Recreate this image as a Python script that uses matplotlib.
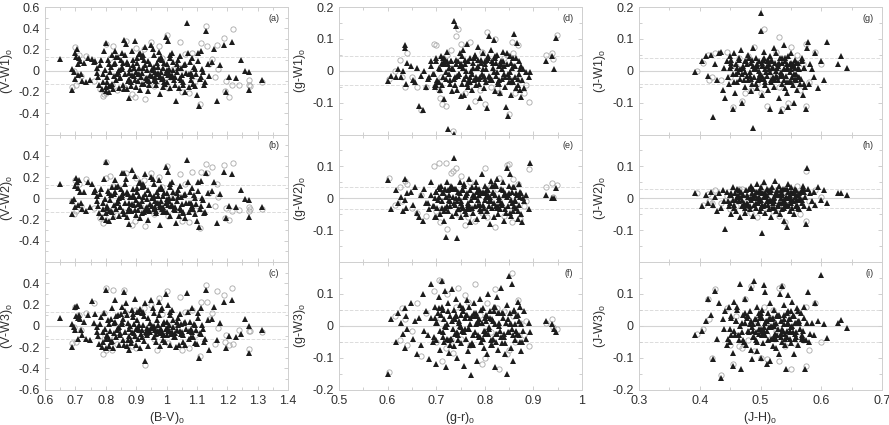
import numpy as np
import matplotlib
matplotlib.use("Agg")
import matplotlib.pyplot as plt
from matplotlib.ticker import MultipleLocator, FixedLocator

plt.rcParams['font.family'] = ['Liberation Sans', 'DejaVu Sans']
plt.rcParams['mathtext.default'] = 'regular'

# all values below are in thousandths of a magnitude
bv = [650,688,690,695,698,700,702,705,708,710,
      712,715,718,722,728,735,740,748,755,762,
      765,770,772,775,778,780,785,788,790,792,
      795,798,800,800,802,805,808,810,812,815,
      818,820,822,825,828,830,832,835,838,840,
      842,845,848,850,852,855,858,860,862,865,
      868,870,872,875,878,880,882,885,888,890,
      892,895,898,900,902,905,908,910,912,915,
      918,920,925,928,930,935,938,940,945,950,
      955,958,960,965,968,970,975,978,980,985,
      988,990,995,998,1000,1005,1008,1010,1012,1015,
      1020,1025,1030,1035,1040,1045,1050,1055,1060,1067,
      1070,1075,1080,1085,1090,1095,1100,1105,1108,1112,
      1115,1120,1125,1130,1135,1140,1150,1155,1165,1175,
      1190,1195,1205,1215,1230,1245,1260,1270,1272,1315,
      # dense core of the cloud
      803,817,826,833,846,853,861,869,877,884,
      891,897,903,909,913,919,923,927,933,937,
      942,947,952,957,962,967,972,977,982,987,
      992,997,1002,1007,1013,1018,1023,1028,1033,1038,
      1043,1048,1053,1058,1063,1073,1078,1083,1088,1093,
      1098,1103,1110,1118,1128,811,839,857,873,893,
      906,921,936,951,963,974,983,993,1004,1017,
      1027,1037,1047,1062,1082,944,959,971,986,1001]
va = [110,-185,20,-10,170,-80,130,200,-40,60,
      120,90,-30,-100,70,-110,120,-90,110,80,
      90,30,-20,-60,-130,50,100,-170,-30,-110,
      190,10,260,-150,-190,-60,100,-200,60,-10,
      40,150,-120,-170,-50,190,70,-90,-30,130,
      -160,10,-70,100,170,40,-130,290,-30,150,
      250,-170,60,-80,-255,20,-110,190,-40,100,
      -50,280,-10,-150,70,-100,160,30,-180,-60,
      130,-20,-120,220,50,-70,90,-190,-40,240,
      10,-90,150,-130,70,-30,180,-50,-220,100,
      30,-70,-120,320,60,280,-20,-160,120,-60,
      10,-90,-285,60,-160,140,-40,-130,-200,445,
      170,-30,-90,120,40,-140,-230,170,-335,-60,
      190,-10,-130,370,60,-50,80,200,-285,50,
      240,-200,-60,275,-70,100,-5,-185,-15,-90,
      -110,-140,60,130,-60,20,-170,80,-20,-140,
      50,-90,120,-30,170,-120,30,100,-70,10,
      -130,60,-50,200,-10,-100,40,-60,130,-150,
      70,-20,-110,20,150,-40,80,-130,-10,100,
      -70,30,-110,50,-20,-150,80,-50,-120,20,
      -30,90,-80,20,-110,-140,-10,70,-100,30,
      -30,150,-90,20,-60,110,-10,-110,-40,170,
      -60,30,-90,60,-20,-100,40,-20,-80,10]
vb = [130,-150,-30,-10,120,-80,190,150,-60,100,
      170,60,-40,-100,60,-120,150,-80,130,60,
      80,20,-30,-70,-140,40,90,-180,-40,-100,
      180,-10,340,-140,-200,-70,70,-210,50,-20,
      30,110,-130,-180,-60,170,60,-100,-40,120,
      -170,0,-80,90,240,30,-120,235,-40,130,
      180,-180,40,-90,-240,10,-120,270,-50,90,
      -60,210,-20,-160,60,-110,140,20,-190,-70,
      110,-30,-130,230,40,-80,80,-200,-50,200,
      0,-100,130,-140,60,-40,170,-60,-250,90,
      20,-80,-130,290,50,250,-30,-170,110,-70,
      0,-100,-230,50,-170,120,-50,-140,-190,360,
      150,-40,-100,100,30,-150,-210,150,-270,-70,
      160,-20,-140,240,50,-60,70,150,-230,40,
      250,-190,-70,225,-80,80,-10,-180,-20,-80,
      -90,-120,40,110,-80,10,-150,60,-40,-120,
      30,-110,100,-50,150,-140,10,120,-90,-10,
      -110,40,-70,180,-30,-120,20,-80,110,-130,
      50,-40,-130,0,130,-60,60,-110,-30,80,
      -90,10,-130,30,-40,-130,60,-70,-100,0,
      -50,70,-100,0,-130,-120,-30,50,-120,10,
      -50,130,-110,0,-80,90,-30,-130,-60,150,
      -80,10,-110,40,-40,-120,20,-40,-100,-10]
vc = [70,-200,20,-10,180,-40,90,190,-120,70,
      100,60,-40,-90,40,-120,100,-130,230,30,
      110,-10,-60,-100,-170,20,80,-200,-60,-150,
      120,-30,340,-120,-210,-90,50,-190,20,-50,
      60,170,-140,-210,-70,240,40,-110,-40,100,
      -180,-10,-90,110,180,20,-130,320,-60,140,
      210,-190,30,-100,-230,0,-130,150,-60,110,
      -70,250,-30,-180,50,-120,130,10,-210,-80,
      120,-40,-140,210,-335,-90,70,-190,-60,240,
      -10,-110,120,-150,50,-50,220,-70,-190,170,
      20,-90,-150,300,40,200,-40,-180,100,-80,
      -10,-110,-200,40,-180,110,-60,-150,-180,310,
      130,-50,-110,170,20,-160,-170,120,-300,-80,
      170,-30,-150,340,50,-230,60,180,-130,30,
      220,-210,-100,240,-110,-80,65,-5,-260,-40,
      -100,-150,30,90,-70,40,-180,100,-30,-160,
      80,-100,130,-40,160,-110,10,90,-60,-20,
      -50,30,-20,170,-40,-80,10,-40,150,-130,
      40,-30,-90,10,130,-60,50,-110,-40,70,
      -50,20,-90,30,-30,-120,40,-60,-110,10,
      -40,70,-70,10,-120,-120,-20,60,-130,20,
      -20,130,-70,0,-40,100,-30,-90,-50,150,
      -70,10,-80,40,-30,-40,0,-50,-60,-20]

# open circles, first column
bv2 = [690,695,700,703,712,720,735,762,780,790,
       795,800,800,815,820,825,838,860,868,888,
       895,900,915,925,930,950,960,970,975,985,
       1000,1005,1010,1020,1045,1050,1075,1085,1095,1110,
       1112,1130,1132,1140,1150,1160,1165,1170,1190,1192,
       1195,1205,1215,1218,1240,1270,1272,1275,1315,1060]
va2 = [-150,0,225,-130,150,-50,140,-100,-170,-240,
       -220,-210,250,120,-130,230,-180,-150,280,-220,
       -250,210,-60,200,-270,270,-140,-100,230,120,
       340,-160,-60,20,270,-200,-210,170,-100,-310,
       260,420,230,60,110,-60,240,20,310,-190,
       -100,-250,-130,395,-130,-130,-90,-140,-110,160]
vb2 = [-30,-150,170,-120,130,-70,180,-90,-190,-230,
       -180,340,190,210,-110,120,-160,-130,240,-250,
       -210,190,-80,170,-260,240,-150,-90,200,110,
       300,-170,-70,10,230,-210,-220,250,-110,-280,
       250,320,240,50,290,-70,130,10,310,-190,
       -90,-200,-120,335,-110,-120,-80,-100,-100,130]
vc2 = [-160,-10,180,-150,100,-40,120,210,-100,-270,
       120,360,-230,-90,-230,340,-170,340,120,-190,
       150,-210,-60,170,-365,200,-120,-230,260,110,
       330,-160,-60,20,270,-230,-210,150,-90,-280,
       220,380,220,60,120,-170,330,-20,290,-150,
       -90,-180,360,-170,-40,-50,-220,-50,-60,130]

gr = [600,608,618,622,628,632,635,636,637,640,
      648,652,656,660,665,668,672,675,680,685,
      690,695,698,700,702,705,708,710,712,715,
      716,718,720,722,724,726,728,730,732,735,
      736,737,738,740,742,744,746,748,750,752,
      754,756,758,760,762,764,766,768,770,772,
      774,776,778,780,782,784,786,788,790,792,
      794,796,798,800,802,804,806,808,810,812,
      814,816,818,820,822,824,826,828,830,832,
      834,836,838,840,842,844,845,846,848,850,
      852,854,855,856,858,860,862,864,866,868,
      870,871,872,874,875,876,878,880,885,890,
      892,925,938,942,947,700,740,770,800,830,
      # dense core of the cloud
      683,689,694,699,703,707,711,714,717,721,
      725,729,733,738,741,745,749,753,757,761,
      765,769,773,777,781,785,789,793,797,801,
      805,809,813,817,821,825,829,833,837,841,
      847,853,857,861,865,869,873,697,719,731,
      743,755,767,779,791,803,815,827,839,851,
      713,727,737,751,763,775,787,799,811,823,
      835,849,863,706,723,747,759,783,807,819]
gd = [-33,-15,-20,5,-20,0,80,70,-40,25,
      15,-30,-35,10,-112,-15,-122,0,-50,-20,
      30,-10,-50,40,-30,10,-60,45,-45,20,
      -90,35,-25,60,-183,10,-40,30,-65,5,
      -197,157,-20,140,-60,30,-10,55,-80,20,
      -40,65,-75,35,-15,85,-50,-115,40,0,
      -60,25,-30,50,-45,10,75,-25,-85,35,
      -10,55,-55,20,-35,-117,45,108,-20,65,
      -30,25,95,-65,40,-15,50,-40,15,-70,
      30,-25,60,-10,-50,-115,55,20,-143,-35,
      45,-75,10,-30,40,115,-20,-55,87,-45,
      30,-10,-60,15,-83,-30,5,-55,-5,-20,
      -5,30,45,4,104,-45,20,-20,30,-30,
      -25,15,-10,30,-35,5,25,-20,40,-5,
      20,-30,10,-45,35,-15,15,45,-25,0,
      30,-35,-10,40,-20,15,-40,25,5,-25,
      35,-15,-30,10,45,-5,-40,20,30,-20,
      -10,25,-35,15,40,-25,5,-45,20,30,
      -15,10,-30,45,-20,5,30,-35,15,-5,
      40,-10,-25,20,-40,10,35,-15,-30,25,
      5,-20,15,-35,30,-10,20,-25,40,-5]
ge = [58,-35,25,-15,5,-40,60,-5,-30,15,
      20,-20,35,-45,-60,10,-70,30,-15,-35,
      50,-25,-60,20,-30,5,-50,40,-10,15,
      -70,30,-120,50,-40,10,-25,40,-55,5,
      125,-15,30,-45,-125,20,-35,50,-10,-60,
      25,-30,45,5,-50,15,-20,60,-75,-5,
      35,-45,10,-25,50,-65,-5,30,-35,15,
      75,-20,-55,40,5,-40,25,-10,-80,55,
      -30,20,-60,10,45,-25,60,-50,-5,-35,
      30,-15,50,-70,15,-45,5,95,-25,40,
      75,-55,-15,20,-40,35,-5,-30,10,-65,
      45,-20,5,-50,15,-75,0,-10,10,-35,
      110,10,0,2,33,-60,30,-30,15,-5,
      -15,10,-25,20,-5,30,-30,15,-40,5,
      25,-10,35,-20,0,-35,15,-25,40,10,
      -15,25,-30,5,35,-20,10,-40,20,-5,
      30,-25,-10,15,40,-30,5,-15,25,-35,
      10,-5,35,-25,15,-40,20,0,-30,30,
      -10,25,-35,5,-20,15,40,-25,10,-45,
      20,-5,30,-15,-35,10,25,-30,5,40,
      -20,15,-10,35,-25,0,-40,20,10,-15]
gf = [-150,20,-50,40,10,-25,-70,55,30,-10,
      70,-40,15,-90,25,-60,100,-15,45,-105,
      130,-35,60,-120,10,90,-75,35,140,-20,
      -50,110,-130,5,70,-85,30,-40,115,-10,
      50,-65,20,85,-100,-30,10,65,-55,35,
      -15,45,-125,25,-40,80,-80,60,5,-155,
      30,-60,70,-20,40,-110,15,-35,85,-50,
      10,55,-70,-25,35,-90,100,-10,45,-60,
      20,-40,60,-130,5,-25,90,-75,40,-15,
      120,-55,25,-35,-90,10,65,-150,-20,155,
      40,-70,130,-10,-110,50,-45,30,-25,75,
      -30,15,60,-80,5,-50,-15,45,-40,10,
      -20,15,5,-10,-20,-45,35,-60,25,0,
      -30,25,-50,10,40,-15,60,-35,20,-5,
      45,-60,15,-25,30,-45,0,55,-20,35,
      -10,25,-55,40,5,-30,20,50,-40,-15,
      30,-5,-45,15,60,-25,10,-35,40,-55,
      20,5,-30,45,-15,35,-50,25,0,-40,
      -20,55,-10,30,-35,15,-60,40,-25,5,
      50,-45,20,-5,35,-30,10,-15,25,-50,
      40,-20,5,55,-40,15,-10,30,-25,45]

gr2 = [603,615,625,630,636,640,650,660,668,678,
       695,700,705,708,712,720,722,735,740,745,
       750,760,770,780,790,800,805,812,820,830,
       840,845,850,855,858,862,868,872,880,885,
       890,925,938,940,948,710,730,765,795,825]
gd2 = [-25,0,35,-20,-50,55,-20,-50,-122,-50,
       85,80,-60,-85,-105,-110,50,-190,110,130,
       85,-70,90,-95,-60,-105,120,-50,100,-70,
       40,50,-135,90,55,-70,80,-30,-70,-45,
       -97,50,55,38,112,-20,65,-35,60,-55]
ge2 = [62,-20,35,-10,55,45,-30,-45,10,-55,
       100,-40,110,-75,25,110,-95,85,95,-50,
       70,-85,50,-70,-40,95,-60,40,-90,65,
       -55,105,108,-75,60,-30,45,-65,-25,-10,
       92,35,47,5,42,-35,80,-60,-45,30]
gf2 = [-145,30,-45,55,20,-60,-15,70,-95,40,
       110,-50,145,25,-110,-70,100,-85,60,120,
       -40,95,-60,130,35,-100,70,-20,115,-135,
       45,-90,-75,165,30,-50,80,10,-30,15,
       -65,10,20,-5,-10,140,-45,75,-120,55]

jh = [393,404,410,414,418,422,425,428,432,435,
      438,440,442,445,448,450,452,454,455,456,
      458,460,462,464,466,467,468,470,472,474,
      476,478,480,482,484,485,486,487,488,490,
      491,492,494,495,496,498,499,500,501,502,
      503,504,505,506,507,508,510,511,512,514,
      515,516,518,519,520,522,523,524,525,526,
      528,529,530,532,533,534,535,536,538,539,
      540,541,542,543,544,545,546,548,549,550,
      551,552,553,554,555,556,558,560,562,564,
      566,568,570,572,574,575,576,578,580,582,
      585,588,590,595,599,605,609,627,632,642,
      # dense core of the cloud
      446,451,457,461,465,469,473,477,481,483,
      489,493,497,500,504,509,513,517,521,527,
      531,537,541,547,550,554,557,561,565,569,
      459,471,479,486,492,498,503,507,511,516,
      519,523,527,533,536,539,543,546,549,552,
      555,559,563,568,572,449,463,475,484,495,
      502,506,514,522,529,534,544,551,556,562,
      452,474,488,499,518,526,538,548,558,571]
jg = [-5,30,45,-15,50,-145,20,-30,55,60,
      -60,10,-85,30,-40,45,15,-120,-10,55,
      -70,20,-35,40,5,-25,65,-100,10,-50,
      30,-15,50,-5,-65,25,-40,-180,70,-20,
      10,40,-55,20,-30,0,-10,180,125,-75,
      15,35,-25,60,-45,5,-15,30,-60,20,
      -120,45,-35,10,-20,70,-50,25,0,55,
      -30,15,-85,40,-5,-125,-40,25,5,80,
      -55,30,-15,10,-70,45,-115,-5,20,-35,
      55,-20,15,-45,-100,35,-10,-60,25,5,
      -25,40,-75,10,-50,-120,70,90,-40,20,
      5,-20,55,-55,30,-30,90,20,45,10,
      -20,25,-35,10,35,-10,-30,20,40,-15,
      5,-40,30,-25,15,-5,35,-30,10,-20,
      25,-15,40,-35,5,20,-25,10,-40,30,
      -10,15,-30,35,5,-20,25,-35,15,-5,
      30,-25,10,-15,40,-30,20,5,-35,15,
      -10,25,-20,35,-40,10,-5,30,-25,15,
      -15,40,5,-30,20,-10,-35,25,10,-20,
      35,-5,15,-25,30,-15,5,20,-30,10]
jh_w2 = [18,-25,10,-15,20,-20,5,-40,15,-30,
         25,-10,-95,20,-25,10,-50,35,-5,-30,
         15,-40,30,-10,5,-60,20,-25,10,-45,
         25,-15,5,-35,40,-5,15,-55,30,-20,
         10,-30,45,0,-15,20,-40,-5,35,-110,
         15,-25,5,50,-20,-45,10,30,-10,-35,
         20,-5,-60,35,-15,5,-30,55,15,-40,
         10,-20,40,-50,0,25,-35,15,-70,-10,
         30,-15,5,-90,-25,20,45,-40,10,-5,
         35,-30,15,-10,-50,5,25,-20,10,-35,
         20,-15,40,-25,5,-80,95,30,-30,15,
         -10,20,-20,35,-5,25,-15,15,15,10,
         -10,15,-20,5,25,-5,-15,10,30,-25,
         0,20,-10,-30,15,5,-20,25,-5,10,
         -15,30,-25,5,20,-10,15,-30,0,25,
         -5,10,-20,30,-15,5,-25,15,-10,20,
         -30,0,25,-15,10,-5,30,-20,5,-10,
         20,-25,15,-5,30,-15,10,-30,0,20,
         -20,5,25,-10,-25,15,0,-15,30,-5,
         10,-20,5,25,-10,15,-30,0,-5,20]
ji = [-28,-15,15,85,35,-105,110,-40,70,-163,
      20,-10,45,-60,60,-50,30,-85,-127,75,
      -30,15,60,-45,0,132,-135,-20,35,85,
      -60,25,-15,45,-75,120,-105,5,-35,140,
      20,-45,60,-80,10,-25,35,-100,-10,50,
      25,-55,127,-15,105,-30,15,-120,40,-5,
      -110,70,-40,20,-65,0,50,-25,10,-70,
      30,-10,-90,100,-35,15,125,-50,5,65,
      -25,-60,-135,40,-15,10,95,-40,20,-5,
      -55,75,-20,30,-90,10,-35,55,-60,15,
      40,-30,-15,60,-137,-45,10,106,-50,-25,
      10,-30,70,15,160,5,-38,10,19,-7,
      -40,25,-15,50,-30,10,-50,30,-20,5,
      -35,20,-10,40,-25,15,-45,0,25,-30,
      35,-15,-40,20,-5,30,-25,45,-10,-35,
      15,-45,30,-5,-20,40,-30,10,-15,25,
      -40,5,35,-25,-10,20,-35,45,-15,0,
      30,-20,10,-40,25,-10,-30,40,15,-50,
      -15,-5,20,-35,30,-25,5,45,-40,15,
      -30,10,-15,25,-5,-40,35,-20,10,-45]

jh2 = [395,405,413,415,425,435,445,450,455,460,
       470,480,485,490,495,500,505,510,515,520,
       525,530,535,540,545,550,555,560,565,570,
       575,575,580,590,600,420,465,475,510,530]
jg2 = [0,25,50,-30,55,-30,60,-20,-115,15,
       -95,45,-60,75,-40,-70,130,-110,30,-15,
       60,-50,-120,40,-100,75,-30,50,-60,20,
       -110,85,-35,60,20,-20,40,-70,10,105]
jh_w2_2 = [15,-20,12,-10,25,-15,8,-35,20,-25,
           30,-5,-45,20,-60,10,35,-25,5,-40,
           25,-30,15,-75,-5,30,-20,40,-50,10,
           -70,85,-10,25,5,-15,30,-40,20,-55]
ji2 = [-25,-10,85,20,115,-155,55,-60,-120,30,
       -70,-45,125,-80,15,-100,60,-105,25,50,
       -15,-110,125,-65,30,-135,-55,45,-20,-45,
       -125,60,-75,70,-50,-100,-65,85,-30,120]

xlabels = ['(B-V)$_o$', '(g-r)$_o$', '(J-H)$_o$']
ylabels = [['(V-W1)$_o$', '(V-W2)$_o$', '(V-W3)$_o$'],
           ['(g-W1)$_o$', '(g-W2)$_o$', '(g-W3)$_o$'],
           ['(J-W1)$_o$', '(J-W2)$_o$', '(J-W3)$_o$']]
panel_names = [['(a)', '(b)', '(c)'], ['(d)', '(e)', '(f)'], ['(g)', '(h)', '(i)']]
dash_levels = [[.125, .125, .125], [.045, .035, .05], [.04, .03, .05]]

black_x = [bv, gr, jh]
black_y = [[va, vb, vc], [gd, ge, gf], [jg, jh_w2, ji]]
gray_x = [bv2, gr2, jh2]
gray_y = [[va2, vb2, vc2], [gd2, ge2, gf2], [jg2, jh_w2_2, ji2]]

xlims = [(.6, 1.4), (.5, 1.0), (.3, .7)]
xticks = [[.6, .7, .8, .9, 1, 1.1, 1.2, 1.3, 1.4],
          [.5, .6, .7, .8, .9, 1],
          [.3, .4, .5, .6, .7]]
xticklabels = [['0.6', '0.7', '0.8', '0.9', '1', '1.1', '1.2', '1.3', '1.4'],
               ['0.5', '0.6', '0.7', '0.8', '0.9', '1'],
               ['0.3', '0.4', '0.5', '0.6', '0.7']]
left_px = [45, 339, 639]
# right edge of the rotated y labels
ylabel_px = [15, 308, 608]
w_px = 243
tops = [7, 134.5, 262]
h_px = 127.5
W, H = 889, 425
edge = '#cfcfcf'
txt = '#303030'

fig = plt.figure(figsize=(8.89, 4.25), dpi=100)
for col in range(3):
    for row in range(3):
        ax = fig.add_axes([left_px[col]/W, 1-(tops[row]+h_px)/H, w_px/W, h_px/H])
        ax.set_xlim(*xlims[col])
        if col == 0:
            ax.set_ylim(-.6, .6)
            labs = {0: [.6, .4, .2, 0, -.2, -.4], 1: [.4, .2, 0, -.2, -.4], 2: [.4, .2, 0, -.2, -.4, -.6]}[row]
            ax.yaxis.set_minor_locator(MultipleLocator(.1))
        else:
            ax.set_ylim(-.2, .2)
            labs = {0: [.2, .1, 0, -.1], 1: [.1, 0, -.1], 2: [.1, 0, -.1, -.2]}[row]
            ax.yaxis.set_minor_locator(MultipleLocator(.05))
        ax.yaxis.set_major_locator(FixedLocator(labs))
        ax.set_yticklabels(['0' if v == 0 else f'{v:.1f}' for v in labs])
        ax.set_xticks(xticks[col])
        ax.xaxis.set_minor_locator(MultipleLocator(.05))
        if row == 2:
            ax.set_xticklabels(xticklabels[col])
            ax.set_xlabel(xlabels[col], fontsize=9, color=txt, labelpad=2)
        else:
            ax.set_xticklabels([])
        ax.tick_params(which='both', direction='in', top=True, right=True, color=edge,
                       labelcolor=txt, labelsize=9, width=.7, pad=4)
        ax.tick_params(which='major', length=3)
        ax.tick_params(which='minor', length=2)
        for s in ax.spines.values():
            s.set_color(edge)
            s.set_linewidth(.7)
        ax.axhline(0, color='#d4d4d4', lw=.8, zorder=1)
        ax.axhline(dash_levels[col][row], color='#dcdcdc', lw=.7, ls='--', zorder=1)
        ax.axhline(-dash_levels[col][row], color='#dcdcdc', lw=.7, ls='--', zorder=1)
        ax.plot(np.array(gray_x[col])/1000, np.array(gray_y[col][row])/1000, 'o', ms=3.8,
                mfc='none', mec='#a8a8a8', mew=.6, zorder=2, clip_on=False)
        ax.plot(np.array(black_x[col])/1000, np.array(black_y[col][row])/1000, '^', ms=3.7,
                color='#1c1c1c', mew=0, zorder=3, clip_on=False)
        ax.text(.965, .91, panel_names[col][row], transform=ax.transAxes, ha='right', va='center',
                fontsize=6.5, color=txt)
        ax.set_ylabel(ylabels[col][row], fontsize=9, color=txt)
        ax.yaxis.set_label_coords((ylabel_px[col]-left_px[col])/w_px, .5)

fig.savefig('out.png', dpi=100)
